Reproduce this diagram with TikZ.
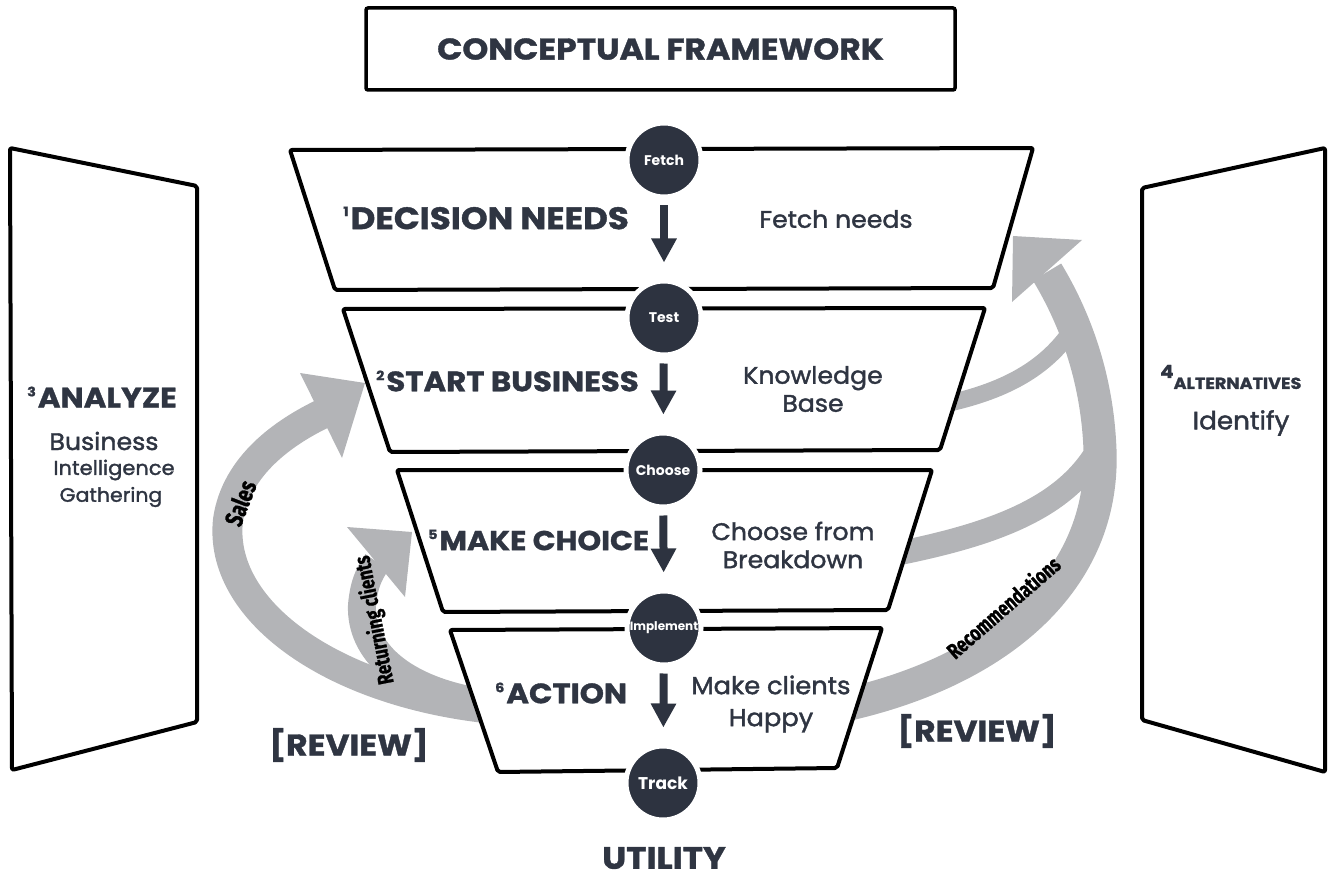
\documentclass[tikz,border=0pt]{standalone}
\usepackage{fontspec}
\setmainfont{Poppins}
\newfontfamily\medf{Poppins}[FakeBold=1.6,FakeStretch=1.05]
\newfontfamily\heavyf{Poppins}[FakeBold=1.2,FakeStretch=1.1]
\newfontfamily\handf{Fira Sans}[FakeStretch=0.76,FakeBold=1]
\usetikzlibrary{arrows.meta}
\definecolor{navy}{HTML}{2D3340}
\definecolor{txt}{HTML}{2F3542}
\definecolor{band}{HTML}{B3B4B7}
\newcommand\supn[2]{\raisebox{#2}{\fontsize{13}{13}\selectfont #1}\hspace{2pt}}
\begin{document}
\begin{tikzpicture}[x=1pt,y=-1pt,
  trap/.style={draw=black,line width=4pt,fill=white,rounded corners=2pt,line join=round},
  panel/.style={draw=black,line width=4pt,rounded corners=2pt,line join=round},
  circ/.style={circle,fill=navy,draw=white,line width=5pt,minimum size=74pt,inner sep=0pt,text=white,font=\bfseries\fontsize{14}{14}\selectfont},
  dnarrow/.style={draw=navy,line width=8pt,-{Triangle[width=24pt,length=24pt]},shorten <=6pt,shorten >=16pt},
  lbl/.style={inner sep=0pt,text=txt,align=center},
  bigl/.style={lbl,font=\heavyf\bfseries\fontsize{28}{28}\selectfont},
  side/.style={lbl,font=\medf\fontsize{24}{28}\selectfont},
  bandline/.style={draw=band,line cap=butt},
  bandhead/.style={fill=band,draw=none},
  hand/.style={inner sep=0pt,text=black,font=\handf\bfseries\fontsize{22}{22}\selectfont}
]
\useasboundingbox (0,0) rectangle (1329,877);

% title
\node[draw=black,line width=3.5pt,rounded corners=2pt,minimum width=589pt,minimum height=82pt,inner sep=0pt,
      text=txt,font=\heavyf\bfseries\fontsize{30}{30}\selectfont] (title) at (660.5,49) {CONCEPTUAL FRAMEWORK};

% side panels
\draw[panel] (10,148) -- (197,186) -- (197,722) -- (12,770) -- cycle;
\draw[panel] (1142,188) -- (1325,148) -- (1325,772) -- (1142,720) -- cycle;

% gray bands (left)
\draw[bandline,line width=30pt] (485,708) .. controls (330,690) and (218,610) .. (228,520)
      .. controls (236,465) and (285,432) .. (322,414);
\fill[bandhead] (300,373) -- (365,383) -- (342,458) -- cycle;
\draw[bandline,line width=28pt] (485,703) .. controls (400,690) and (360,650) .. (362,605)
      .. controls (364,585) and (368,575) .. (377,562);
\fill[bandhead] (347,527) -- (412,532) -- (405,597) -- cycle;

% gray bands (right)
\draw[bandline,line width=33pt] (845,705) .. controls (1000,670) and (1105,580) .. (1100,450)
      .. controls (1097,370) and (1070,310) .. (1047,272);
\fill[bandhead] (1013,236) -- (1082,240) -- (1012,302) -- cycle;
\draw[bandline,line width=17pt] (945,404) .. controls (1010,390) and (1050,365) .. (1075,325);
\draw[bandline,line width=24pt] (895,554) .. controls (990,535) and (1060,510) .. (1095,455);

% funnel trapezoids
\draw[trap] (290,150) -- (1033,148) -- (993,288) -- (335,290) -- cycle;
\draw[trap] (343,309) -- (985,308) -- (940,450) -- (390,452) -- cycle;
\draw[trap] (397,470) -- (932,470) -- (888,610) -- (443,612) -- cycle;
\draw[trap] (450,630) -- (882,628) -- (837,768) -- (498,772) -- cycle;

% circles
\node[circ] (fetch) at (664,160) {Fetch};
\node[circ] (test) at (664,318) {Test};
\node[circ] (choose) at (663,470) {Choose};
\node[circ,font=\bfseries\fontsize{12}{12}\selectfont] (impl) at (664,628) {Implement};
\node[circ,font=\bfseries\fontsize{17}{17}\selectfont] (track) at (663,783) {Track};

% down arrows
\draw[dnarrow] (fetch) -- (test);
\draw[dnarrow] (test) -- (choose);
\draw[dnarrow] (choose) -- (impl);
\draw[dnarrow] (impl) -- (track);

% funnel labels
\node[bigl,anchor=west,font=\heavyf\bfseries\fontsize{31}{31}\selectfont] (l1) at (343,218) {\supn{1}{13pt}DECISION NEEDS};
\node[bigl,anchor=west] (l2) at (376,381) {\supn{2}{11pt}START BUSINESS};
\node[bigl,anchor=west,font=\heavyf\bfseries\fontsize{27.3}{28}\selectfont] (l5) at (428,540) {\supn{5}{11pt}MAKE CHOICE};
\node[bigl,anchor=west] (l6) at (495,693) {\supn{6}{11pt}ACTION};

\node[side] (r1) at (836,219) {Fetch needs};
\node[side] (r2) at (813,389) {Knowledge\\Base};
\node[side] (r5) at (793,545) {Choose from\\Breakdown};
\node[side,font=\medf\fontsize{24.5}{32}\selectfont] (r6) at (771,704) {Make clients\\Happy};

% left panel text
\node[bigl,anchor=west] (an) at (27,397) {\supn{3}{11pt}ANALYZE};
\node[lbl,font=\medf\fontsize{24}{24}\selectfont] (bus) at (104,441) {Business};
\node[lbl,font=\medf\fontsize{20}{20}\selectfont] (intel) at (114,470) {Intelligence};
\node[lbl,font=\medf\fontsize{19.5}{20}\selectfont] (gath) at (111,497) {Gathering};

% right panel text
\node[lbl,anchor=west,font=\heavyf\bfseries\fontsize{16}{16}\selectfont] (alt) at (1160,377) {\raisebox{11pt}{\fontsize{18}{18}\selectfont 4}ALTERNATIVES};
\node[lbl,font=\medf\fontsize{25}{25}\selectfont] (ident) at (1241,423) {Identify};

% review / utility
\node[lbl,font=\heavyf\bfseries\fontsize{30}{30}\selectfont] (rev1) at (349,745) {[REVIEW]};
\node[lbl,font=\heavyf\bfseries\fontsize{30}{30}\selectfont] (rev2) at (977,731) {[REVIEW]};
\node[lbl,font=\heavyf\bfseries\fontsize{31}{31}\selectfont] (util) at (664,858) {UTILITY};

% band labels
\node[hand,rotate=69,font=\handf\bfseries\fontsize{25}{25}\selectfont] (sales) at (240,503) {Sales};
\node[hand,rotate=101] (ret) at (375,620) {Returning clients};
\node[hand,rotate=41] (rec) at (1003,607) {Recommendations};
\end{tikzpicture}
\end{document}
